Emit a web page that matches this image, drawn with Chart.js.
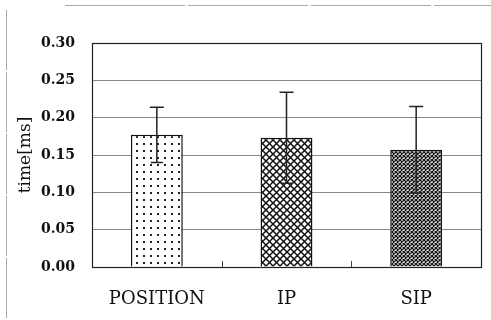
<!DOCTYPE html>
<html><head><meta charset="utf-8">
<script src="https://cdn.jsdelivr.net/npm/chart.js@4/dist/chart.umd.min.js"></script>
<style>html,body{margin:0;padding:0;background:#fff;}#wrap{width:491px;height:320px;}</style>
</head><body><div id="wrap"><canvas id="c" width="491" height="320"></canvas></div>
<script>
const categories = ["POSITION", "IP", "SIP"];
const meanValues = [0.177, 0.173, 0.157];
const errorValues = [0.037, 0.061, 0.058];
const yTicks = [0.00, 0.05, 0.10, 0.15, 0.20, 0.25, 0.30];

function makePattern(kind) {
  const c = document.createElement('canvas');
  const ctx = c.getContext('2d');
  if (kind === 'dots') {
    c.width = 7; c.height = 7;
    ctx.fillStyle = '#fff'; ctx.fillRect(0,0,7,7);
    ctx.fillStyle = '#222'; ctx.fillRect(3,3,2,2);
  } else if (kind === 'cross') {
    c.width = 7; c.height = 7;
    ctx.fillStyle = '#fff'; ctx.fillRect(0,0,7,7);
    ctx.strokeStyle = '#111'; ctx.lineWidth = 1.5;
    ctx.beginPath();
    ctx.moveTo(-1,-1); ctx.lineTo(8,8);
    ctx.moveTo(-1,8); ctx.lineTo(8,-1);
    ctx.stroke();
  } else {
    c.width = 4; c.height = 4;
    ctx.fillStyle = '#ddd'; ctx.fillRect(0,0,4,4);
    ctx.strokeStyle = '#111'; ctx.lineWidth = 1.2;
    ctx.beginPath();
    ctx.moveTo(-1,-1); ctx.lineTo(5,5);
    ctx.moveTo(-1,5); ctx.lineTo(5,-1);
    ctx.stroke();
  }
  return document.getElementById('c').getContext('2d').createPattern(c, 'repeat');
}

const decor = {
  id: 'decor',
  beforeDraw(chart) {
    const ctx = chart.ctx;
    ctx.save();
    ctx.fillStyle = '#fff';
    ctx.fillRect(0,0,chart.width,chart.height);
    ctx.strokeStyle = '#aaa'; ctx.lineWidth = 1;
    ctx.setLineDash([120,3]);
    ctx.beginPath(); ctx.moveTo(65,5.5); ctx.lineTo(491,5.5); ctx.stroke();
    ctx.setLineDash([60,2]);
    ctx.beginPath(); ctx.moveTo(6.5,10); ctx.lineTo(6.5,320); ctx.stroke();
    ctx.restore();
  },
  afterDatasetsDraw(chart) {
    const ctx = chart.ctx;
    const a = chart.chartArea;
    const xs = chart.scales.x, ys = chart.scales.y;
    ctx.save();
    ctx.strokeStyle = '#222'; ctx.lineWidth = 1.5;
    meanValues.forEach((m, i) => {
      const x = xs.getPixelForValue(i);
      const yt = ys.getPixelForValue(m + errorValues[i]);
      const yb = ys.getPixelForValue(m - errorValues[i]);
      ctx.beginPath();
      ctx.moveTo(x, yt); ctx.lineTo(x, yb);
      ctx.moveTo(x-7, yt); ctx.lineTo(x+7, yt);
      ctx.moveTo(x-6, yb); ctx.lineTo(x+6, yb);
      ctx.stroke();
    });
    ctx.strokeStyle = '#222'; ctx.lineWidth = 1.2;
    ctx.strokeRect(Math.round(a.left)+0.5, Math.round(a.top)+0.5, Math.round(a.right-a.left), Math.round(a.bottom-a.top));
    ctx.lineWidth = 1; ctx.strokeStyle = '#444';
    for (let i = 0; i < categories.length - 1; i++) {
      const x = Math.round((xs.getPixelForValue(i) + xs.getPixelForValue(i+1)) / 2) + 0.5;
      ctx.beginPath(); ctx.moveTo(x, a.bottom); ctx.lineTo(x, a.bottom - 6); ctx.stroke();
    }
    ctx.restore();
  }
};

new Chart(document.getElementById('c'), {
  type: 'bar',
  data: {
    labels: categories,
    datasets: [{
      data: meanValues,
      backgroundColor: [makePattern('dots'), makePattern('cross'), makePattern('dense')],
      borderColor: '#111',
      borderWidth: 1.5,
      barPercentage: 0.4,
      categoryPercentage: 1.0
    }]
  },
  options: {
    responsive: false,
    animation: false,
    devicePixelRatio: 1,
    layout: { padding: { left: 0, top: 43, right: 10, bottom: 0 } },
    plugins: { legend: { display: false }, tooltip: { enabled: false } },
    scales: {
      x: {
        grid: { display: false, drawTicks: false },
        border: { display: false },
        ticks: { color: '#111', padding: 22, font: { family: 'DejaVu Serif', size: 18 } },
        afterFit(s) { s.height = 53; }
      },
      y: {
        min: 0, max: 0.30,
        afterBuildTicks(s) { s.ticks = yTicks.map(v => ({ value: v })); },
        grid: { color: '#888', lineWidth: 1, drawTicks: false },
        border: { display: false },
        ticks: { color: '#111', padding: 17, font: { family: 'DejaVu Serif', size: 14, weight: 'bold' },
                 callback: v => Number(v).toFixed(2) },
        title: { display: true, text: 'time[ms]', color: '#111', padding: { top: 15, bottom: 0 },
                 font: { family: 'DejaVu Serif', size: 17 } },
        afterFit(s) { s.width = 92; }
      }
    }
  },
  plugins: [decor]
});
</script></body></html>
